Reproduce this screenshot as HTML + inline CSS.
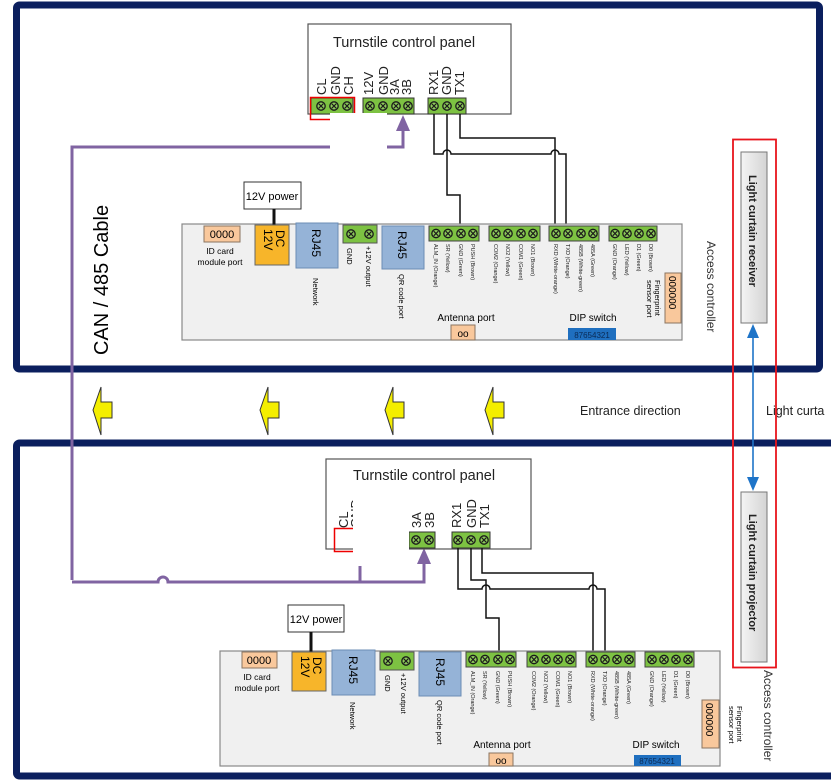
<!DOCTYPE html>
<html><head><meta charset="utf-8"><style>
html,body{margin:0;padding:0;background:#fff;}
svg{display:block;font-family:"Liberation Sans",sans-serif;}
</style></head><body>
<svg width="831" height="784" viewBox="0 0 831 784" xmlns="http://www.w3.org/2000/svg">
<defs>
<g id="pin"><circle r="4.2" fill="#8dc95a" stroke="#1a1a1a" stroke-width="1.3"/><path d="M-2.3,-2.3L2.3,2.3M2.3,-2.3L-2.3,2.3" stroke="#1a1a1a" stroke-width="1.1"/></g>
<linearGradient id="lg" x1="0" x2="1"><stop offset="0" stop-color="#f4f4f4"/><stop offset="1" stop-color="#d4d4d4"/></linearGradient>
<polygon id="ya" points="0,23 8,0 8,15 19,15 19,31 8,31 8,48" fill="#f4ee00" stroke="#333" stroke-width="1"/>
</defs>
<rect width="831" height="784" fill="#fff"/>

<!-- panels -->
<rect x="16.5" y="5" width="803" height="364" rx="3" fill="none" stroke="#0b1f5e" stroke-width="7"/>
<rect x="16.5" y="443" width="830" height="333" rx="3" fill="none" stroke="#0b1f5e" stroke-width="7"/>

<!-- CAN cable -->
<path d="M72,580 L72,147 L330,147" fill="none" stroke="#8064a2" stroke-width="3"/>
<path d="M387,147 L403,147 L403,128" fill="none" stroke="#8064a2" stroke-width="3"/>
<polygon points="403,115 396,131 410,131" fill="#8064a2"/>
<path d="M72,582 L158,582 A5,5 0 0 1 168,582 L424,582 L424,562" fill="none" stroke="#8064a2" stroke-width="3"/>
<polygon points="424,548 417,564 431,564" fill="#8064a2"/>
<path d="M360,582 L360,566" fill="none" stroke="#8064a2" stroke-width="3"/>
<text transform="translate(108,355) rotate(-90)" font-size="20" fill="#000">CAN / 485 Cable</text>

<!-- ===== TOP turnstile ===== -->
<rect x="308" y="24" width="203" height="90" fill="#fff" stroke="#555" stroke-width="1.2"/>
<text x="404" y="47" font-size="14.5" text-anchor="middle" fill="#222">Turnstile control panel</text>
<g font-size="13" fill="#222">
<text transform="translate(326,95) rotate(-90)">CL</text>
<text transform="translate(340,95) rotate(-90)">GND</text>
<text transform="translate(353,95) rotate(-90)">CH</text>
<text transform="translate(373,95) rotate(-90)">12V</text>
<text transform="translate(388,95) rotate(-90)">GND</text>
<text transform="translate(399,95) rotate(-90)">3A</text>
<text transform="translate(411,95) rotate(-90)">3B</text>
<text transform="translate(438,95) rotate(-90)">RX1</text>
<text transform="translate(451,95) rotate(-90)">GND</text>
<text transform="translate(464,95) rotate(-90)">TX1</text>
</g>
<rect x="311" y="98" width="42" height="16" fill="#7dc242" stroke="#333"/>
<rect x="363" y="98" width="51" height="16" fill="#7dc242" stroke="#333"/>
<rect x="428" y="98" width="38" height="16" fill="#7dc242" stroke="#333"/>
<use href="#pin" x="321" y="106"/><use href="#pin" x="334" y="106"/><use href="#pin" x="347" y="106"/>
<use href="#pin" x="370" y="106"/><use href="#pin" x="383" y="106"/><use href="#pin" x="396" y="106"/><use href="#pin" x="408" y="106"/>
<use href="#pin" x="434" y="106"/><use href="#pin" x="447" y="106"/><use href="#pin" x="460" y="106"/>
<rect x="310.5" y="97.5" width="44" height="22" fill="none" stroke="#e00" stroke-width="1.5"/>
<rect x="330" y="113" width="57" height="38" fill="#fff"/>

<!-- top wires -->
<g fill="none" stroke="#111" stroke-width="1.5">
<path d="M460,114 L460,138 L555,138 L555,226"/>
<path d="M447,114 L447,195 L460,195 L460,226"/>
<path d="M434,114 L434,154 L443,154 A4,4 0 0 1 451,154 L551,154 A4,4 0 0 1 559,154 L566,154 L566,226"/>
</g>

<!-- TOP controller -->
<rect x="182" y="224" width="500" height="116" fill="#f0f0f0" stroke="#888" stroke-width="1.2"/>
<rect x="244" y="182" width="57" height="27" fill="#fff" stroke="#333"/>
<text x="272" y="200" font-size="11" text-anchor="middle">12V power</text>
<line x1="274" y1="209" x2="274" y2="225" stroke="#111" stroke-width="3"/>
<rect x="204" y="226" width="36" height="16" fill="#f9c89c" stroke="#8a7560"/>
<text x="222" y="238" font-size="11" text-anchor="middle">0000</text>
<text x="220" y="254" font-size="8.5" text-anchor="middle">ID card</text>
<text x="220" y="265" font-size="8.5" text-anchor="middle">module port</text>
<rect x="255" y="225" width="34" height="40" fill="#f7b52a" stroke="#666"/>
<text transform="translate(276,230) rotate(90)" font-size="12">DC</text>
<text transform="translate(264,229) rotate(90)" font-size="12">12V</text>
<rect x="296" y="223" width="42" height="45" fill="#95b3d7" stroke="#6b8cb5"/>
<text transform="translate(312,229) rotate(90)" font-size="12">RJ45</text>
<text transform="translate(313,278) rotate(90)" font-size="7.5">Network</text>
<rect x="343" y="225" width="34" height="18" fill="#7dc242" stroke="#555"/>
<use href="#pin" x="351" y="234"/><use href="#pin" x="369" y="234"/>
<text transform="translate(347,248) rotate(90)" font-size="7.5">GND</text>
<text transform="translate(366,246) rotate(90)" font-size="7.5">+12V output</text>
<rect x="382" y="226" width="42" height="43" fill="#95b3d7" stroke="#6b8cb5"/>
<text transform="translate(398,231) rotate(90)" font-size="12">RJ45</text>
<text transform="translate(399,274) rotate(90)" font-size="7.5">QR code port</text>
<g>
<rect x="429" y="226" width="50" height="15" fill="#7dc242" stroke="#444"/>
<rect x="489" y="226" width="51" height="15" fill="#7dc242" stroke="#444"/>
<rect x="549" y="226" width="50" height="15" fill="#7dc242" stroke="#444"/>
<rect x="609" y="226" width="48" height="15" fill="#7dc242" stroke="#444"/>
<use href="#pin" x="436" y="233.5"/><use href="#pin" x="448" y="233.5"/><use href="#pin" x="461" y="233.5"/><use href="#pin" x="473" y="233.5"/>
<use href="#pin" x="496" y="233.5"/><use href="#pin" x="508" y="233.5"/><use href="#pin" x="521" y="233.5"/><use href="#pin" x="533" y="233.5"/>
<use href="#pin" x="556" y="233.5"/><use href="#pin" x="568" y="233.5"/><use href="#pin" x="581" y="233.5"/><use href="#pin" x="593" y="233.5"/>
<use href="#pin" x="615" y="233.5"/><use href="#pin" x="627" y="233.5"/><use href="#pin" x="639" y="233.5"/><use href="#pin" x="651" y="233.5"/>
</g>
<g font-size="5.5" fill="#222">
<text transform="translate(434,244) rotate(90)">ALM_IN (Orange)</text>
<text transform="translate(446,244) rotate(90)">SR (Yellow)</text>
<text transform="translate(459,244) rotate(90)">GND (Green)</text>
<text transform="translate(471,244) rotate(90)">PUSH (Brown)</text>
<text transform="translate(494,244) rotate(90)">COM2 (Orange)</text>
<text transform="translate(506,244) rotate(90)">NO2 (Yellow)</text>
<text transform="translate(519,244) rotate(90)">COM1 (Green)</text>
<text transform="translate(531,244) rotate(90)">NO1 (Brown)</text>
<text transform="translate(554,244) rotate(90)">RXD (White-orange)</text>
<text transform="translate(566,244) rotate(90)">TXD (Orange)</text>
<text transform="translate(579,244) rotate(90)">485B (White-green)</text>
<text transform="translate(591,244) rotate(90)">485A (Green)</text>
<text transform="translate(613,244) rotate(90)">GND (Orange)</text>
<text transform="translate(625,244) rotate(90)">LED (Yellow)</text>
<text transform="translate(637,244) rotate(90)">D1 (Green)</text>
<text transform="translate(649,244) rotate(90)">D0 (Brown)</text>
</g>
<rect x="665" y="273" width="16" height="50" fill="#f9c89c" stroke="#8a7560"/>
<text transform="translate(669,276) rotate(90)" font-size="10">000000</text>
<text transform="translate(655,280) rotate(90)" font-size="7.5">Fingerprint</text>
<text transform="translate(647,280) rotate(90)" font-size="7.5">sensor port</text>
<text x="466" y="321" font-size="10" text-anchor="middle">Antenna port</text>
<rect x="451" y="325" width="24" height="15" fill="#f9c89c" stroke="#8a7560"/>
<text x="463" y="337" font-size="10" text-anchor="middle">oo</text>
<text x="593" y="321" font-size="10" text-anchor="middle">DIP switch</text>
<rect x="568" y="328" width="48" height="12" fill="#1f6fbf"/>
<text x="592" y="338" font-size="8" text-anchor="middle" fill="#0a2a55">87654321</text>
<text transform="translate(707,241) rotate(90)" font-size="12" fill="#333">Access controller</text>

<!-- arrows band -->
<use href="#ya" x="93" y="387"/>
<use href="#ya" x="260" y="387"/>
<use href="#ya" x="385" y="387"/>
<use href="#ya" x="485" y="387"/>
<text x="580" y="415" font-size="12.5" fill="#222">Entrance direction</text>
<text x="766" y="415" font-size="12.5" fill="#222">Light curta</text>

<!-- light curtain -->
<rect x="733" y="139.5" width="43" height="528" fill="none" stroke="#e8141c" stroke-width="1.8"/>
<rect x="741" y="152" width="26" height="171" fill="url(#lg)" stroke="#777"/>
<text transform="translate(749,175) rotate(90)" font-size="11" font-weight="bold" fill="#222">Light curtain receiver</text>
<rect x="741" y="492" width="26" height="170" fill="url(#lg)" stroke="#777"/>
<text transform="translate(749,514) rotate(90)" font-size="11" font-weight="bold" fill="#222">Light curtain projector</text>
<line x1="753" y1="335" x2="753" y2="480" stroke="#1e74c8" stroke-width="1.6"/>
<polygon points="753,324 747,338 759,338" fill="#1e74c8"/>
<polygon points="753,491 747,477 759,477" fill="#1e74c8"/>

<!-- ===== BOTTOM turnstile ===== -->
<rect x="326" y="459" width="205" height="90" fill="#fff" stroke="#555" stroke-width="1.2"/>
<text x="424" y="480" font-size="14.5" text-anchor="middle" fill="#222">Turnstile control panel</text>
<g font-size="13" fill="#222">
<text transform="translate(348,528) rotate(-90)">CL</text>
<text transform="translate(360,528) rotate(-90)">GND</text>
<text transform="translate(409,528) rotate(-90)">GND</text>
<text transform="translate(421,528) rotate(-90)">3A</text>
<text transform="translate(434,528) rotate(-90)">3B</text>
<text transform="translate(461,528) rotate(-90)">RX1</text>
<text transform="translate(476,528) rotate(-90)">GND</text>
<text transform="translate(489,528) rotate(-90)">TX1</text>
</g>
<rect x="409" y="532" width="26" height="16" fill="#7dc242" stroke="#333"/>
<use href="#pin" x="416" y="540"/><use href="#pin" x="429" y="540"/>
<rect x="452" y="532" width="38" height="16" fill="#7dc242" stroke="#333"/>
<use href="#pin" x="458" y="540"/><use href="#pin" x="471" y="540"/><use href="#pin" x="484" y="540"/>
<rect x="334.5" y="528.5" width="40" height="23" fill="none" stroke="#e00" stroke-width="1.5"/>
<rect x="353" y="497" width="56" height="68" fill="#fff"/>

<!-- bottom wires -->
<g fill="none" stroke="#111" stroke-width="1.5">
<path d="M482,548 L482,573 L593,573 L593,652"/>
<path d="M471,548 L471,580 L486,580 L486,618 L499,618 L499,652"/>
<path d="M458,548 L458,589 L482,589 A4,4 0 0 1 490,589 L589,589 A4,4 0 0 1 597,589 L605,589 L605,652"/>
</g>

<!-- BOTTOM controller -->
<rect x="220" y="651" width="500" height="115" fill="#f0f0f0" stroke="#888" stroke-width="1.2"/>
<rect x="288" y="605" width="56" height="27" fill="#fff" stroke="#333"/>
<text x="316" y="623" font-size="11" text-anchor="middle">12V power</text>
<line x1="311" y1="632" x2="311" y2="652" stroke="#111" stroke-width="3"/>
<rect x="242" y="652" width="35" height="16" fill="#f9c89c" stroke="#8a7560"/>
<text x="259" y="664" font-size="11" text-anchor="middle">0000</text>
<text x="257" y="680" font-size="8.5" text-anchor="middle">ID card</text>
<text x="257" y="691" font-size="8.5" text-anchor="middle">module port</text>
<rect x="292" y="652" width="34" height="39" fill="#f7b52a" stroke="#666"/>
<text transform="translate(313,657) rotate(90)" font-size="12">DC</text>
<text transform="translate(301,656) rotate(90)" font-size="12">12V</text>
<rect x="332" y="650" width="43" height="45" fill="#95b3d7" stroke="#6b8cb5"/>
<text transform="translate(349,656) rotate(90)" font-size="12">RJ45</text>
<text transform="translate(350,702) rotate(90)" font-size="7.5">Network</text>
<rect x="380" y="652" width="34" height="18" fill="#7dc242" stroke="#555"/>
<use href="#pin" x="388" y="661"/><use href="#pin" x="406" y="661"/>
<text transform="translate(385,675) rotate(90)" font-size="7.5">GND</text>
<text transform="translate(401,673) rotate(90)" font-size="7.5">+12V output</text>
<rect x="419" y="652" width="42" height="44" fill="#95b3d7" stroke="#6b8cb5"/>
<text transform="translate(436,658) rotate(90)" font-size="12">RJ45</text>
<text transform="translate(437,700) rotate(90)" font-size="7.5">QR code port</text>
<g>
<rect x="466" y="652" width="50" height="15" fill="#7dc242" stroke="#444"/>
<rect x="527" y="652" width="49" height="15" fill="#7dc242" stroke="#444"/>
<rect x="586" y="652" width="49" height="15" fill="#7dc242" stroke="#444"/>
<rect x="645" y="652" width="49" height="15" fill="#7dc242" stroke="#444"/>
<use href="#pin" x="473" y="659.5"/><use href="#pin" x="485" y="659.5"/><use href="#pin" x="498" y="659.5"/><use href="#pin" x="510" y="659.5"/>
<use href="#pin" x="534" y="659.5"/><use href="#pin" x="546" y="659.5"/><use href="#pin" x="558" y="659.5"/><use href="#pin" x="570" y="659.5"/>
<use href="#pin" x="593" y="659.5"/><use href="#pin" x="605" y="659.5"/><use href="#pin" x="617" y="659.5"/><use href="#pin" x="629" y="659.5"/>
<use href="#pin" x="652" y="659.5"/><use href="#pin" x="664" y="659.5"/><use href="#pin" x="676" y="659.5"/><use href="#pin" x="688" y="659.5"/>
</g>
<g font-size="5.5" fill="#222">
<text transform="translate(471,671) rotate(90)">ALM_IN (Orange)</text>
<text transform="translate(483,671) rotate(90)">SR (Yellow)</text>
<text transform="translate(496,671) rotate(90)">GND (Green)</text>
<text transform="translate(508,671) rotate(90)">PUSH (Brown)</text>
<text transform="translate(532,671) rotate(90)">COM2 (Orange)</text>
<text transform="translate(544,671) rotate(90)">NO2 (Yellow)</text>
<text transform="translate(556,671) rotate(90)">COM1 (Green)</text>
<text transform="translate(568,671) rotate(90)">NO1 (Brown)</text>
<text transform="translate(591,671) rotate(90)">RXD (White-orange)</text>
<text transform="translate(603,671) rotate(90)">TXD (Orange)</text>
<text transform="translate(615,671) rotate(90)">485B (White-green)</text>
<text transform="translate(627,671) rotate(90)">485A (Green)</text>
<text transform="translate(650,671) rotate(90)">GND (Orange)</text>
<text transform="translate(662,671) rotate(90)">LED (Yellow)</text>
<text transform="translate(674,671) rotate(90)">D1 (Green)</text>
<text transform="translate(686,671) rotate(90)">D0 (Brown)</text>
</g>
<rect x="702" y="700" width="17" height="48" fill="#f9c89c" stroke="#8a7560"/>
<text transform="translate(706,703) rotate(90)" font-size="10">000000</text>
<text transform="translate(737,706) rotate(90)" font-size="7.5">Fingerprint</text>
<text transform="translate(729,706) rotate(90)" font-size="7.5">sensor port</text>
<text x="502" y="748" font-size="10" text-anchor="middle">Antenna port</text>
<rect x="489" y="753" width="24" height="13" fill="#f9c89c" stroke="#8a7560"/>
<text x="501" y="764" font-size="10" text-anchor="middle">oo</text>
<text x="656" y="748" font-size="10" text-anchor="middle">DIP switch</text>
<rect x="634" y="755" width="47" height="11" fill="#1f6fbf"/>
<text x="657" y="764" font-size="8" text-anchor="middle" fill="#0a2a55">87654321</text>
<text transform="translate(764,670) rotate(90)" font-size="12" fill="#333">Access controller</text>
</svg>
</body></html>
